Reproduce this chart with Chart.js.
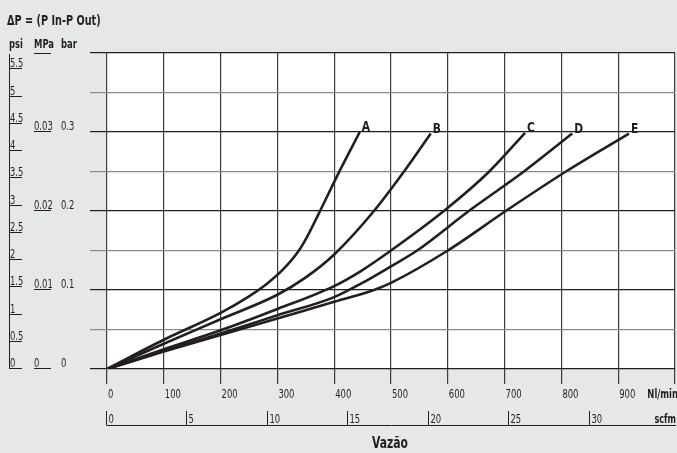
<!DOCTYPE html>
<html>
<head>
<meta charset="utf-8">
<script src="https://cdn.jsdelivr.net/npm/chart.js@4/dist/chart.umd.min.js"></script>
<style>
  html, body { margin: 0; padding: 0; background: #e6e7e9; }
  #wrap { width: 677px; height: 453px; }
</style>
</head>
<body>
<div id="wrap"><canvas id="c" width="677" height="453"></canvas></div>
<script>
// Flow (Nl/min) and pressure drop (bar) for each curve
const flowA = [0, 100, 200, 250, 280, 310, 336, 352, 373, 407, 445];
const dpA   = [0, 0.037, 0.071, 0.092, 0.107, 0.126, 0.148, 0.167, 0.197, 0.247, 0.3];
const flowB = [0, 100, 200, 300, 350, 400, 470, 523, 570];
const dpB   = [0, 0.032, 0.063, 0.094, 0.116, 0.145, 0.2, 0.25, 0.298];
const flowC = [0, 100, 200, 300, 400, 447, 500, 593, 673, 736];
const dpC   = [0, 0.025, 0.049, 0.076, 0.105, 0.124, 0.15, 0.2, 0.25, 0.299];
const flowD = [0, 100, 200, 300, 400, 447, 500, 546, 637, 734, 819];
const dpD   = [0, 0.023, 0.045, 0.068, 0.091, 0.108, 0.13, 0.15, 0.2, 0.25, 0.298];
const flowE = [0, 100, 200, 300, 400, 470, 500, 600, 702, 808, 919];
const dpE   = [0, 0.022, 0.043, 0.064, 0.085, 0.1, 0.109, 0.15, 0.2, 0.25, 0.298];

const curveNames = ['A', 'B', 'C', 'D', 'E'];

// Axis tick labels
const flowTicks = [0, 100, 200, 300, 400, 500, 600, 700, 800, 900];
const scfmTicks = [0, 5, 10, 15, 20, 25, 30];
const psiTicks  = [0, 0.5, 1, 1.5, 2, 2.5, 3, 3.5, 4, 4.5, 5, 5.5];
const mpaTicks  = [0, 0.01, 0.02, 0.03];
const barTicks  = [0, 0.1, 0.2, 0.3];

const PSI_PER_BAR = 14.5038;
const NL_PER_SCF = 28.317;

const FONT = "'DejaVu Sans Condensed', 'DejaVu Sans', sans-serif";
const INK = '#231f20';

function pts(xs, ys) { return xs.map((x, i) => ({ x, y: ys[i] })); }

const series = [[flowA, dpA], [flowB, dpB], [flowC, dpC], [flowD, dpD], [flowE, dpE]];

const datasets = series.map((s, i) => ({
  label: curveNames[i],
  data: pts(s[0], s[1]),
  borderColor: INK,
  borderWidth: 2.6,
  pointRadius: 0,
  fill: false,
  cubicInterpolationMode: 'monotone'
}));

// Draws text squeezed horizontally to mimic a condensed typeface
function drawText(ctx, s, x, y, font, sx, align) {
  ctx.save();
  ctx.font = font;
  ctx.textAlign = align || 'left';
  ctx.textBaseline = 'alphabetic';
  ctx.translate(x, y);
  ctx.scale(sx, 1);
  ctx.fillText(s, 0, 0);
  ctx.restore();
}

const panelPlugin = {
  id: 'panel',
  beforeDraw(chart) {
    const { ctx, chartArea: a } = chart;
    ctx.save();
    ctx.fillStyle = '#e6e7e9';
    ctx.fillRect(0, 0, chart.width, chart.height);
    ctx.fillStyle = '#ffffff';
    ctx.fillRect(a.left, a.top, a.right - a.left, a.bottom - a.top);
    ctx.restore();
  }
};

const labelsPlugin = {
  id: 'labels',
  afterDraw(chart) {
    const ctx = chart.ctx;
    const xs = chart.scales.x, ys = chart.scales.y;
    const NUM = '13px ' + FONT;
    const NSX = 0.72;
    ctx.save();
    ctx.fillStyle = INK;
    ctx.strokeStyle = INK;
    ctx.lineWidth = 1;

    // Title and unit headers
    drawText(ctx, 'ΔP = (P In-P Out)', 7, 25, 'bold 14px ' + FONT, 0.77);
    drawText(ctx, 'psi', 9, 48, 'bold 12.5px ' + FONT, 0.75);
    drawText(ctx, 'MPa', 34, 48, 'bold 12.5px ' + FONT, 0.75);
    drawText(ctx, 'bar', 61, 48, 'bold 12.5px ' + FONT, 0.75);
    ctx.beginPath();
    ctx.moveTo(34, 53.5); ctx.lineTo(51, 53.5);
    ctx.stroke();

    // psi column with its vertical rule and underlines
    const y0 = Math.round(ys.getPixelForValue(0));
    ctx.beginPath();
    ctx.moveTo(9.5, 54); ctx.lineTo(9.5, y0);
    ctx.stroke();
    psiTicks.forEach(p => {
      const y = Math.round(ys.getPixelForValue(p / PSI_PER_BAR)) - 1;
      ctx.beginPath();
      ctx.moveTo(9, y + 0.5); ctx.lineTo(22, y + 0.5);
      ctx.stroke();
      drawText(ctx, String(p), 10, y - 1, NUM, NSX);
    });

    // MPa column (underlined) and bar column
    mpaTicks.forEach(m => {
      const y = Math.round(ys.getPixelForValue(m * 10)) - 1;
      ctx.beginPath();
      ctx.moveTo(34, y + 0.5); ctx.lineTo(51, y + 0.5);
      ctx.stroke();
      drawText(ctx, String(m), 34, y - 1, NUM, NSX);
    });
    barTicks.forEach(b => {
      const y = Math.round(ys.getPixelForValue(b)) - 1;
      drawText(ctx, String(b), 61, y - 1, NUM, NSX);
    });

    // Nl/min tick labels
    flowTicks.forEach(f => {
      drawText(ctx, String(f), xs.getPixelForValue(f) + 1, 398, NUM, NSX);
    });
    drawText(ctx, 'Nl/min', 678, 398, 'bold 13px ' + FONT, 0.72, 'right');

    // Secondary scfm axis
    const axY = 425.5;
    ctx.beginPath();
    ctx.moveTo(Math.round(xs.getPixelForValue(0)), axY);
    ctx.lineTo(xs.getPixelForValue(1000) + 1, axY);
    ctx.stroke();
    scfmTicks.forEach(s => {
      const x = Math.round(xs.getPixelForValue(s * NL_PER_SCF)) - 0.5;
      ctx.beginPath();
      ctx.moveTo(x, 411); ctx.lineTo(x, axY);
      ctx.stroke();
      drawText(ctx, String(s), x + 2, 423, NUM, NSX);
    });
    drawText(ctx, 'scfm', 676, 423, 'bold 12.5px ' + FONT, 0.72, 'right');

    // Axis title
    drawText(ctx, 'Vazão', 390, 448, 'bold 15px ' + FONT, 0.8, 'center');

    // Curve letters at the end of each curve
    series.forEach((s, i) => {
      const n = s[0].length - 1;
      const px = xs.getPixelForValue(s[0][n]);
      const py = ys.getPixelForValue(s[1][n]);
      drawText(ctx, curveNames[i], px + 2, py - 1, 'bold 14px ' + FONT, 0.85);
    });

    ctx.restore();
  }
};

new Chart(document.getElementById('c'), {
  type: 'line',
  data: { datasets },
  options: {
    responsive: false,
    animation: false,
    devicePixelRatio: 1,
    layout: { padding: { left: 90, top: 53, right: 2, bottom: 69 } },
    plugins: { legend: { display: false }, tooltip: { enabled: false } },
    scales: {
      x: {
        type: 'linear',
        min: 0, max: 1000,
        ticks: { display: false, stepSize: 100 },
        border: { display: false },
        grid: { color: '#3c3c3c', lineWidth: 1.2, drawTicks: true, tickLength: 15 }
      },
      y: {
        type: 'linear',
        min: 0, max: 0.4,
        ticks: { display: false, stepSize: 0.05 },
        border: { display: false },
        grid: {
          color: c => (Math.round(c.tick.value * 20) % 2 === 0 ? '#1e1e1e' : '#8a8a8a'),
          lineWidth: 1.2,
          drawTicks: true,
          tickLength: 17
        }
      }
    }
  },
  plugins: [panelPlugin, labelsPlugin]
});
</script>
</body>
</html>
